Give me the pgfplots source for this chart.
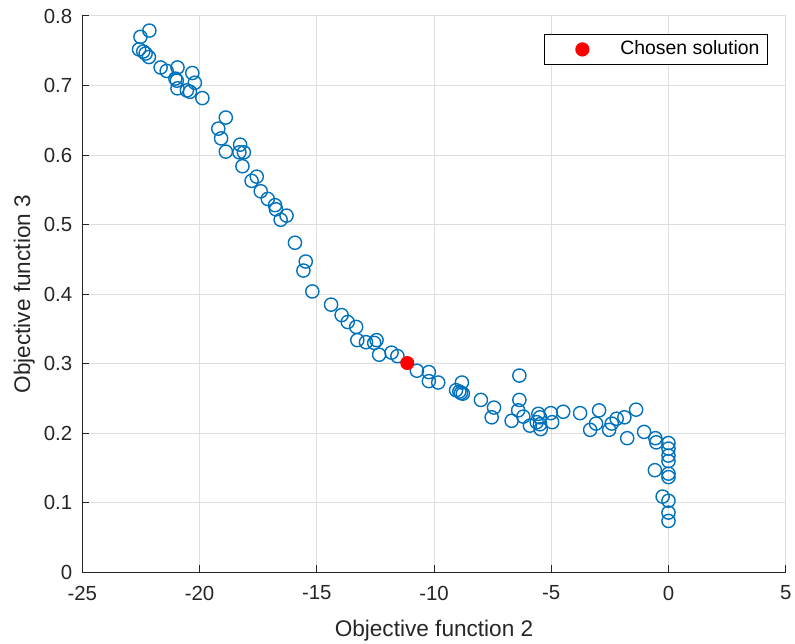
\documentclass[border=0pt]{standalone}
\usepackage{fontspec}
\setmainfont{Liberation Sans}
\usepackage{pgfplots}
\pgfplotsset{compat=1.18}
\definecolor{mblue}{rgb}{0,0.447,0.741}
\definecolor{axgray}{rgb}{0.15,0.15,0.15}
\pgfplotsset{wide mark legend/.style={legend image code/.code={%
    \path[draw=none, fill=none] (0pt,-5pt) rectangle (34pt,5pt); \draw[##1] plot coordinates {(17pt,0pt)};}}}

\begin{document}
\begin{tikzpicture}
% page frame, 795x643 px at 0.5pt per px
\useasboundingbox (-41.15pt,-35.35pt) rectangle (356.35pt,286.2pt);
\begin{axis}[
    at={(0,0)}, anchor=south west,
    scale only axis,
    width=351.7pt, height=278.2pt,
    xmin=-25, xmax=5, ymin=0, ymax=0.8,
    xtick={-25,-20,...,5},
    ytick={0,0.1,...,0.8},
    yticklabel style={/pgf/number format/fixed},
    /pgf/number format/assume math mode=true,
    axis x line*=bottom, axis y line*=left,
    axis line style={-, axgray, line width=0.5pt},
    tick align=inside, major tick length=3.5pt,
    tick style={axgray, line width=0.5pt},
    grid=major,
    major grid style={black!13, line width=0.5pt},
    ticklabel style={font=\fontsize{10.2}{12}\selectfont, text=axgray},
    xticklabel style={yshift=-3.2pt},
    yticklabel style={xshift=-1.5pt},
    label style={font=\fontsize{11.3}{13}\selectfont, text=axgray},
    xlabel={Objective function 2},
    ylabel={Objective function 3},
    xlabel style={at={(axis description cs:0.5,-0.105)}, anchor=center},
    ylabel style={at={(axis description cs:-0.0825,0.5)}, anchor=center},
    legend style={at={(1,1)}, anchor=north east, xshift=-8.85pt, yshift=-9pt,
        draw=black, line width=0.5pt, font=\fontsize{9.7}{11}\selectfont,
        inner xsep=2pt, inner ysep=1.2pt},
    legend cell align=left,
]
\addplot[only marks, mark=o, mark size=3.3pt, mblue, line width=0.7pt, forget plot] coordinates {
(-22.14,0.779) (-22.52,0.770) (-22.58,0.752) (-22.40,0.749) (-22.30,0.746)
(-22.16,0.741) (-21.66,0.726) (-21.40,0.721) (-20.94,0.726) (-21.03,0.710)
(-20.97,0.707) (-20.94,0.696) (-20.31,0.718) (-20.20,0.704) (-20.54,0.693)
(-20.41,0.691) (-19.88,0.682) (-18.88,0.654)
(-19.20,0.638) (-19.08,0.624) (-18.88,0.605) (-18.27,0.615) (-18.30,0.604)
(-18.11,0.604) (-18.17,0.584) (-17.56,0.569) (-17.78,0.563) (-17.39,0.548)
(-17.09,0.537) (-16.78,0.528) (-16.74,0.522) (-16.29,0.513) (-16.54,0.507)
(-15.93,0.474) (-15.47,0.447) (-15.57,0.434)
(-15.19,0.404) (-14.39,0.385) (-13.94,0.370) (-13.68,0.360) (-13.32,0.353)
(-13.27,0.334) (-12.90,0.331) (-12.55,0.330) (-12.45,0.334) (-12.34,0.313)
(-11.81,0.316) (-11.56,0.311) (-10.73,0.290) (-10.22,0.288) (-10.22,0.275)
(-9.82,0.273) (-8.81,0.273) (-9.06,0.262) (-8.92,0.260) (-8.85,0.258)
(-8.77,0.257) (-8.00,0.248) (-7.44,0.237) (-7.54,0.223)
(-6.36,0.283) (-6.36,0.248) (-6.41,0.233) (-6.69,0.218) (-6.19,0.224)
(-5.91,0.211) (-5.55,0.228) (-5.48,0.223) (-5.62,0.216) (-5.48,0.213)
(-5.45,0.206) (-5.02,0.229) (-4.96,0.216) (-4.49,0.231) (-3.77,0.229)
(-2.96,0.233) (-3.09,0.214) (-3.34,0.205) (-2.53,0.205) (-2.42,0.214)
(-2.21,0.221) (-1.88,0.223) (-1.38,0.234) (-1.76,0.193) (-1.04,0.202)
(-0.56,0.193) (-0.52,0.187) (-0.58,0.147) (-0.25,0.109)
(0.0,0.186) (0.0,0.178) (0.0,0.168) (0.0,0.160) (0.0,0.142)
(0.0,0.137) (0.0,0.103) (0.0,0.086) (0.0,0.074)
};
\addplot[only marks, mark=*, mark size=3.3pt, red, mark options={draw=red, fill=red},
    wide mark legend] coordinates {(-11.14,0.301)};
\legend{Chosen solution}
\end{axis}
\end{tikzpicture}
\end{document}
